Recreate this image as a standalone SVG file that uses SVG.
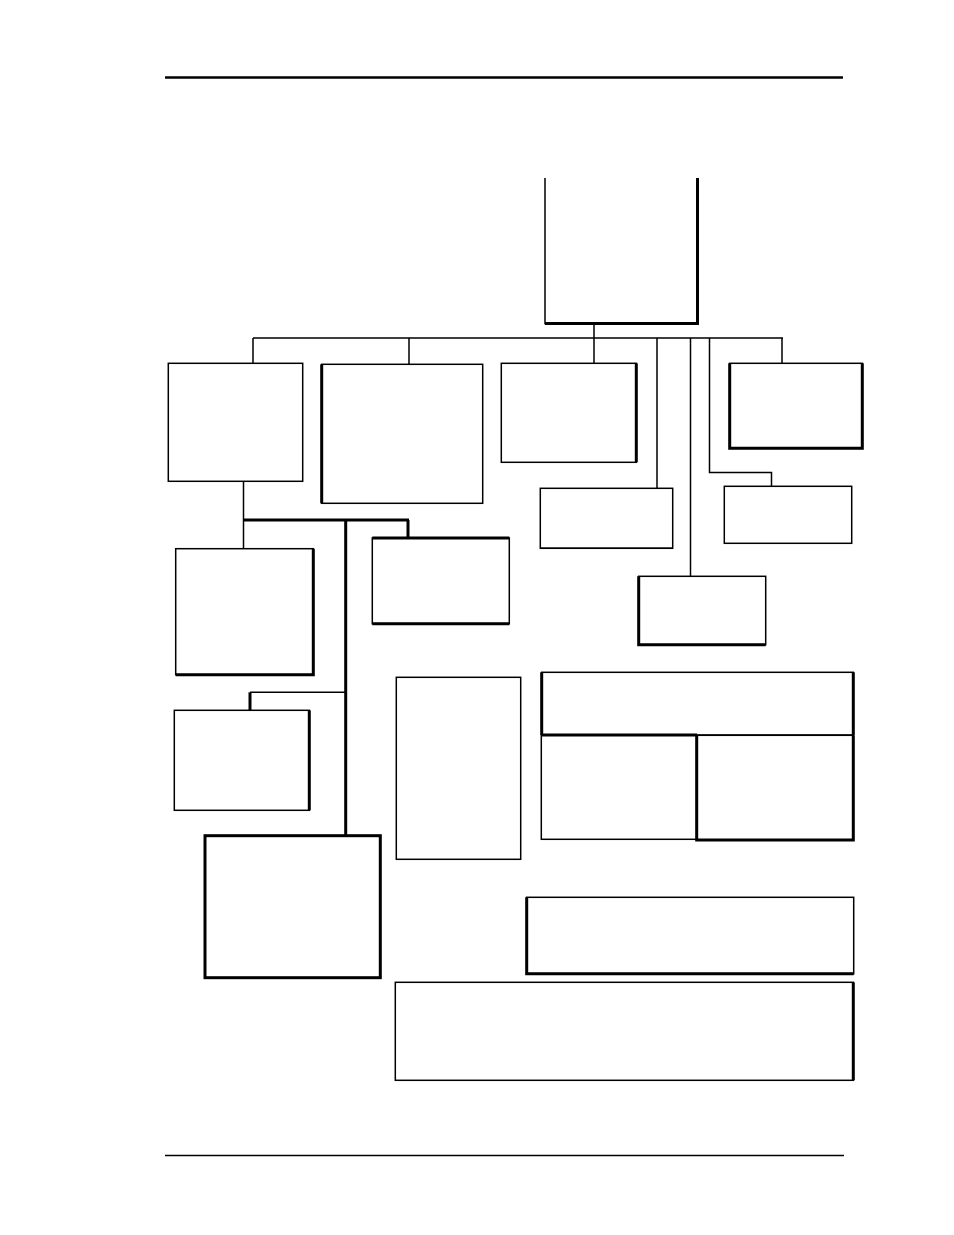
<svg xmlns="http://www.w3.org/2000/svg" width="954" height="1235" viewBox="0 0 954 1235">
<style>
.n{fill:#fff;stroke:#000;stroke-width:1.5}
.t{fill:none;stroke:#000;stroke-width:3}
.c{fill:none;stroke:#000;stroke-width:1.5}
.ct{fill:none;stroke:#000;stroke-width:3}
</style>
<rect width="954" height="1235" fill="#fff"/>
<g id="header"><line x1="165" y1="77.5" x2="843" y2="77.5" stroke="#000" stroke-width="2.5"/></g>
<g id="footer"><line x1="165" y1="1155.5" x2="844" y2="1155.5" stroke="#000" stroke-width="1.3"/></g>
<g id="connectors">
<path class="c" d="M594 323V338M253 338H783M253 338V363M409 338V364M594 338V363M657 338V489M690.5 338V576M709.5 338V472.5H771.5V486M782 338V363"/>
<path class="c" d="M243.5 481V549"/>
<path class="ct" d="M243.5 520H409M408 520V538M345.7 520V837"/>
<path class="c" d="M345.7 692.3H250"/>
<path class="ct" d="M250 692.3V710"/>
</g>
<g id="top"><path class="c" d="M545 178V323.5H697"/><path class="t" d="M545 323.5H697.5V178" stroke-width="2.5"/></g>
<g id="n1"><rect class="n" x="168.3" y="363.3" width="134.4" height="118"/></g>
<g id="n2"><rect class="n" x="321.7" y="364.3" width="161" height="139"/><path class="t" d="M321.7 364.3V503.3"/></g>
<g id="n3"><rect class="n" x="501.3" y="363.3" width="135" height="99"/><path class="t" d="M636.3 363.3V462.3"/></g>
<g id="n4"><rect class="n" x="729.7" y="363.3" width="132.6" height="85"/><path class="t" d="M729.7 363.3V448.3H862.3V363.3" stroke-width="2.5"/></g>
<g id="n5"><rect class="n" x="540.3" y="488.3" width="132.4" height="60"/><path class="c" d="M540.3 548.3H672.7" stroke-width="2"/></g>
<g id="n6"><rect class="n" x="724.3" y="486.3" width="127.4" height="57"/></g>
<g id="n7"><rect class="n" x="638.7" y="576.3" width="127" height="68.4"/><path class="t" d="M638.7 576.3V644.7H765.7" stroke-width="2.5"/></g>
<g id="n8"><rect class="n" x="175.7" y="548.7" width="137.6" height="126"/><path class="t" d="M313.3 548.7V674.7H175.7"/></g>
<g id="n9"><rect class="n" x="372.3" y="538" width="137" height="85.7"/><path class="t" d="M372.3 538H509.3M372.3 623.7H509.3" stroke-width="2.5"/></g>
<g id="n10"><rect class="n" x="174.3" y="710.3" width="135" height="100"/><path class="t" d="M309.3 710.3V810.3" stroke-width="2.5"/></g>
<g id="n11"><rect class="n" x="205" y="835.7" width="175.3" height="142" style="stroke-width:3"/></g>
<g id="n12"><rect class="n" x="396.3" y="677.3" width="124.4" height="182"/></g>
<g id="n13"><rect class="n" x="541.7" y="672.3" width="311.6" height="62.7"/><path class="t" d="M541.7 672.3V735M853.3 672.3V735"/></g>
<g id="n14"><rect class="n" x="541.3" y="735" width="155.4" height="104.3"/><path class="t" d="M541.3 735H697"/></g>
<g id="n15"><rect class="n" x="696.7" y="735.3" width="156.6" height="104.7"/><path class="t" d="M696.7 735.3V840H853.3V735.3"/></g>
<g id="n16"><rect class="n" x="526.7" y="897.3" width="327" height="76.4"/><path class="t" d="M526.7 897.3V973.7H853.7" stroke-width="2.5"/></g>
<g id="n17"><rect class="n" x="395.3" y="982.3" width="458" height="98"/><path class="t" d="M853.3 982.3V1080.3" stroke-width="2.5"/></g>
</svg>
